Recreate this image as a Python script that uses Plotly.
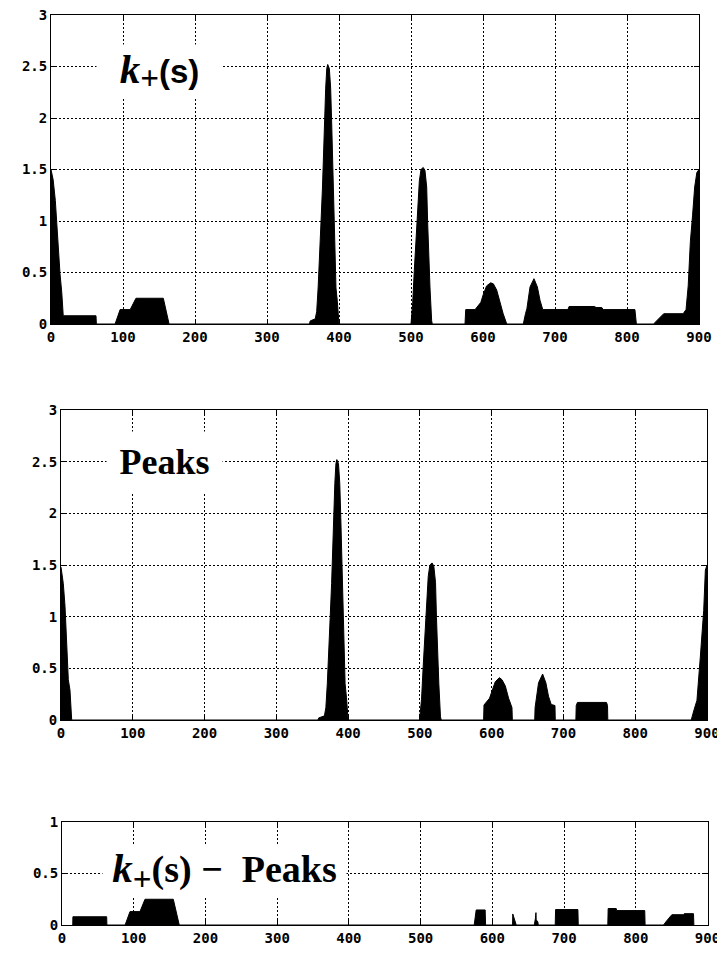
import plotly.graph_objects as go

W, H = 717, 954

# ---------------- data ----------------
# k_+(s)
kplus_x = [0, 3, 6, 8, 10, 12.5, 15, 17, 62.5, 63,
           89, 96, 110, 118, 156, 164,
           359, 360, 367, 369, 371, 373.5, 375, 377, 378.2, 379.6, 381.5, 383, 384.3,
           386.6, 388.4, 389.8, 391.2, 392.1, 393.5, 394.4, 395.8, 397.7, 399.5, 400,
           500, 502.3, 504.6, 506.9, 509.3, 511.6, 513.9, 517, 519.4, 521.8, 523.1,
           524.5, 526.4, 528.7, 529.6,
           575, 576, 589, 597, 600.5, 605, 610.7, 614.4, 619, 623.6, 628, 633,
           656, 659, 661, 665.3, 670.8, 675.5, 679.2, 683, 718, 719.5, 755, 757, 765,
           767, 811, 813,
           837, 841, 848, 851, 878, 882, 885, 888, 891, 894, 897, 900]
kplus_y = [1.5, 1.4, 1.2, 0.98, 0.69, 0.49, 0.3, 0.08, 0.08, 0,
           0, 0.14, 0.14, 0.25, 0.25, 0,
           0, 0.03, 0.05, 0.12, 0.35, 0.67, 0.99, 1.32, 1.64, 1.96, 2.29, 2.48, 2.52,
           2.48, 2.29, 1.96, 1.64, 1.32, 0.99, 0.67, 0.35, 0.22, 0.1, 0,
           0, 0.2, 0.52, 0.84, 1.17, 1.39, 1.5, 1.52, 1.49, 1.33, 0.99,
           0.67, 0.35, 0.03, 0,
           0, 0.14, 0.14, 0.21, 0.29, 0.37, 0.4, 0.39, 0.33, 0.21, 0.1, 0,
           0, 0.1, 0.15, 0.36, 0.44, 0.36, 0.23, 0.14, 0.14, 0.17, 0.17, 0.16, 0.16,
           0.14, 0.14, 0,
           0, 0.03, 0.08, 0.1, 0.1, 0.14, 0.37, 0.8, 1.05, 1.33, 1.47, 1.5]

# Peaks
peaks_x = [0, 3.2, 5.6, 7.9, 10.2, 12.5, 14.9,
           358, 359, 367, 369, 371, 373.5, 375, 377, 378.2, 379.6, 381.5, 383, 384.3,
           386.6, 388.4, 389.8, 391.2, 392.1, 393.5, 394.4, 395.8, 397.7, 399.5, 400,
           499.5, 502.3, 504.6, 506.9, 509.3, 511.6, 513.9, 517, 519.4, 521.8, 523.1,
           524.5, 526.4, 528.7, 529.8,
           588.8, 589.3, 597, 600.5, 605, 610.7, 614.4, 619, 623.6, 628.3, 628.8,
           660, 660.5, 665.3, 671, 675.5, 679.2, 683, 688.2, 688.6,
           717.3, 717.8, 719.5, 760, 761.4, 761.8,
           878, 882, 886, 890.7, 895.4, 897.7, 900]
peaks_y = [1.48, 1.32, 1.1, 0.74, 0.39, 0.29, 0,
           0, 0.02, 0.04, 0.12, 0.35, 0.67, 0.99, 1.32, 1.64, 1.96, 2.29, 2.48, 2.52,
           2.48, 2.29, 1.96, 1.64, 1.32, 0.99, 0.67, 0.35, 0.22, 0.1, 0,
           0, 0.2, 0.52, 0.84, 1.17, 1.39, 1.5, 1.52, 1.49, 1.33, 0.99,
           0.67, 0.35, 0.03, 0,
           0, 0.145, 0.21, 0.29, 0.37, 0.41, 0.39, 0.33, 0.21, 0.12, 0,
           0, 0.12, 0.36, 0.445, 0.36, 0.23, 0.15, 0.14, 0,
           0, 0.14, 0.17, 0.17, 0.14, 0,
           0, 0.1, 0.19, 0.61, 1.06, 1.45, 1.5]

# k_+(s) - Peaks
resid_x = [15, 15.2, 62.3, 62.6,
           88, 94.8, 108.7, 115.7, 155.2, 163.5,
           574.7, 577.5, 590, 590.6,
           628.2, 628.5, 633.3,
           658.5, 660, 660.8, 661.2, 663.5, 664,
           687.7, 688.2, 719.3, 719.8,
           761, 761.5, 772.7, 773.5, 812.5, 813,
           838.7, 843, 850.3, 866.6, 867.5, 880.5, 881]
resid_y = [0, 0.08, 0.08, 0,
           0, 0.13, 0.13, 0.25, 0.25, 0,
           0, 0.146, 0.146, 0,
           0, 0.107, 0,
           0, 0.06, 0.12, 0.05, 0.03, 0,
           0, 0.15, 0.15, 0,
           0, 0.16, 0.16, 0.14, 0.14, 0,
           0, 0.04, 0.1, 0.1, 0.11, 0.11, 0]

x_ticks = [0, 100, 200, 300, 400, 500, 600, 700, 800, 900]
y_ticks_big = [0, 0.5, 1, 1.5, 2, 2.5, 3]
y_ticks_small = [0, 0.5, 1]

# ---------------- layout helpers ----------------
def xd(a, b):
    return [a / W, b / W]

def yd(top, bottom):
    return [1 - bottom / H, 1 - top / H]

TICKFONT = dict(family="DejaVu Sans Mono", size=14, color="black", weight=700)

def xaxis(domain, anchor):
    return dict(domain=domain, anchor=anchor, range=[0, 900], tickvals=x_ticks,
                showgrid=True, gridcolor="black", gridwidth=1, griddash="2px,2px",
                showline=True, linecolor="black", linewidth=1, mirror="ticks",
                ticks="inside", ticklen=5, tickcolor="black",
                ticklabeloverflow="allow",
                tickfont=TICKFONT, zeroline=False, automargin=False, fixedrange=True)

def yaxis(domain, anchor, rng, ticks):
    return dict(domain=domain, anchor=anchor, range=rng, tickvals=ticks,
                showgrid=True, gridcolor="black", gridwidth=1, griddash="2px,2px",
                showline=True, linecolor="black", linewidth=1, mirror="ticks",
                ticks="inside", ticklen=5, tickcolor="black",
                tickfont=TICKFONT, zeroline=False, automargin=False, fixedrange=True)

fig = go.Figure()
for xs, ys, xa, ya in [(kplus_x, kplus_y, "x", "y"),
                       (peaks_x, peaks_y, "x2", "y2"),
                       (resid_x, resid_y, "x3", "y3")]:
    fig.add_trace(go.Scatter(x=xs, y=ys, xaxis=xa, yaxis=ya, mode="lines",
                             fill="tozeroy", fillcolor="black",
                             line=dict(color="black", width=1), showlegend=False,
                             hoverinfo="skip"))

def ann(text, cx, cy, w, h, size=34):
    return dict(text=text, xref="paper", yref="paper", x=cx / W, y=1 - cy / H,
                xanchor="center", yanchor="middle", showarrow=False,
                width=w, height=h, bgcolor="white", borderpad=0,
                font=dict(family="Liberation Serif", size=size, color="black"))

KPLUS = ("<b><i><span style='font-size:41px'>k</span></i></b>"
         "<sub><b><span style='font-size:33px'>+</span></b></sub>")

fig.update_layout(
    width=W, height=H, margin=dict(l=0, r=0, t=0, b=0),
    paper_bgcolor="white", plot_bgcolor="white",
    xaxis=xaxis(xd(51, 699), "y"), yaxis=yaxis(yd(15, 324), "x", [0, 3], y_ticks_big),
    xaxis2=xaxis(xd(61, 707), "y2"), yaxis2=yaxis(yd(410, 720), "x2", [0, 3], y_ticks_big),
    xaxis3=xaxis(xd(62, 707.5), "y3"), yaxis3=yaxis(yd(822, 925), "x3", [0, 1], y_ticks_small),
    annotations=[
        ann(KPLUS + "<b><span style='font-family:Liberation Sans;font-size:33px'>(s)</span></b>",
            159.5, 71, 125, 52, size=33),
        ann("<b>Peaks</b>", 164.5, 462, 115, 60, size=36),
        ann(KPLUS + "<b>(s) \u2212  Peaks</b>", 224.5, 871, 243, 52, size=38),
    ],
)

fig.write_html("out.html")
